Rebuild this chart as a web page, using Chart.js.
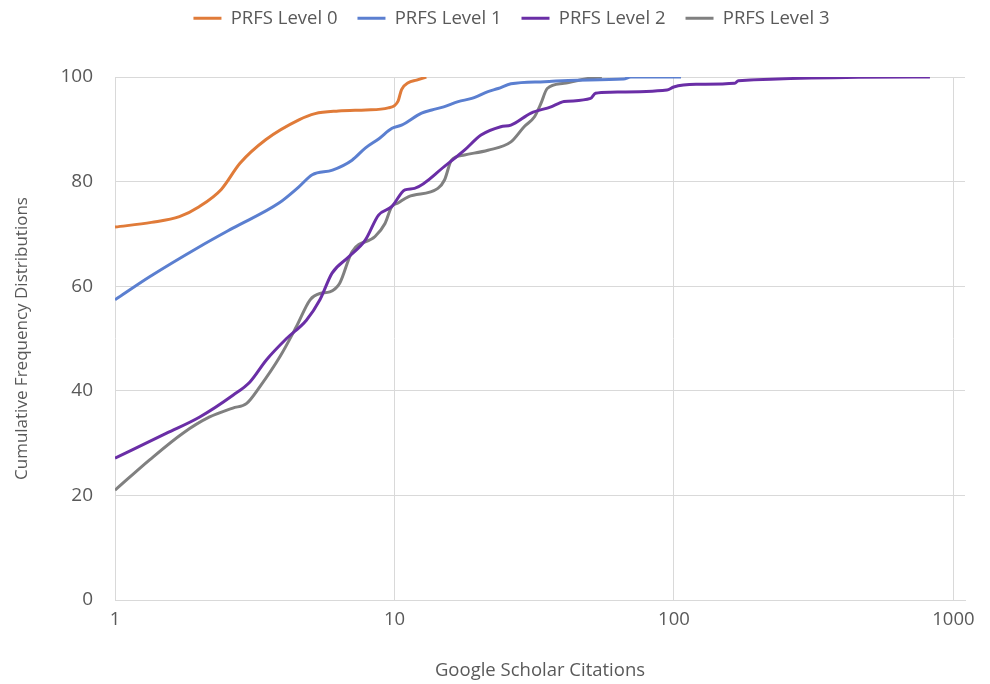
<!DOCTYPE html>
<html>
<head>
<meta charset="utf-8">
<script src="https://cdn.jsdelivr.net/npm/chart.js@4"></script>
<style>
  html, body { margin: 0; padding: 0; background: #fff; }
  #wrap { width: 990px; height: 684px; }
</style>
</head>
<body>
<div id="wrap"><canvas id="chart" width="990" height="684"></canvas></div>
<script>
// citations (x) and cumulative % (y) for each PRFS level
const level0X = [1, 1.35, 1.7, 2.0, 2.4, 2.8, 3.46, 4.55, 5.2, 6.3, 7.9, 9.5, 10.3, 10.6, 11.2, 12.0, 13.0]
const level0Y = [71.3, 72.2, 73.3, 75.2, 78.5, 83.5, 88, 91.8, 93.0, 93.5, 93.7, 94.1, 95.4, 97.6, 98.9, 99.4, 100]

const level1X = [1, 1.33, 2.0, 2.64, 3.86, 4.55, 5.08, 6.0, 7.05, 7.86, 8.8, 9.8, 10.6, 12.5, 13.6, 15.0, 16.9, 18.9, 21.6, 23.5, 26.1, 34.4, 45, 66, 70, 106]
const level1Y = [57.4, 61.8, 67.5, 71.1, 75.9, 79, 81.3, 82.2, 84.1, 86.4, 88.2, 90.2, 90.8, 93.1, 93.7, 94.3, 95.3, 95.9, 97.2, 97.8, 98.7, 99.1, 99.4, 99.6, 100, 100]

const level2X = [1, 1.53, 2.01, 2.65, 3.04, 3.48, 4.11, 4.84, 5.41, 5.98, 6.86, 7.86, 8.77, 9.77, 10.9, 11.8, 15.1, 17.8, 20.4, 24, 26.1, 30.8, 36.3, 38.9, 40.4, 50.3, 52.4, 59.2, 94.4, 99.8, 120, 165, 170, 824]
const level2Y = [27.1, 31.9, 35.0, 39.2, 41.7, 45.9, 50.0, 53.5, 57.4, 62.5, 65.6, 68.8, 73.6, 75.2, 78.4, 78.7, 82.9, 86.0, 88.9, 90.5, 90.8, 93.1, 94.3, 95.0, 95.3, 95.9, 96.9, 97.1, 97.5, 98.1, 98.6, 98.8, 99.3, 100]

const level3X = [1, 1.33, 1.75, 2.18, 2.64, 2.96, 3.30, 3.89, 4.46, 4.99, 5.41, 5.87, 6.36, 7.05, 8.52, 9.25, 9.77, 10.3, 11.2, 14.3, 15.1, 16.0, 17.8, 21.6, 26.1, 29.1, 31.7, 33.4, 35.2, 40.4, 50.3, 55.2]
const level3Y = [21.0, 26.8, 31.9, 35.0, 36.7, 37.6, 40.8, 46.5, 52.3, 57.4, 58.6, 58.9, 60.5, 66.6, 69.5, 72.0, 75.2, 75.9, 77.1, 78.7, 80.3, 84.1, 85.1, 86.0, 87.6, 90.5, 92.4, 94.9, 97.8, 98.8, 99.8, 100]

const seriesNames = ["PRFS Level 0", "PRFS Level 1", "PRFS Level 2", "PRFS Level 3"]
const seriesColors = ["#E07B39", "#5B7FD0", "#6A2EA6", "#808080"]
const xTicks = [1, 10, 100, 1000]
const yTicks = [0, 20, 40, 60, 80, 100]

function toPoints(xs, ys){
  return xs.map(function(x, i){
    return { x: x, y: ys[i] }
  })
}

const allX = [level0X, level1X, level2X, level3X]
const allY = [level0Y, level1Y, level2Y, level3Y]

const textColor = "#595959"
const gridColor = "#d9d9d9"
const font = "'Open Sans', 'Noto Sans', sans-serif"

// force the legend block height so the plot top lands where it should,
// then nudge the legend up and to the right like in the picture
const legendHeight = {
  id: "legendHeight",
  beforeInit(chart){
    const fit = chart.legend.fit
    chart.legend.fit = function(){
      fit.bind(chart.legend)()
      this.height = 77
    }
  },
  afterLayout(chart){
    const lg = chart.legend
    lg.top -= 11
    lg.bottom -= 11
    lg.left += 29
    lg.right += 29
  }
}

new Chart(document.getElementById("chart"), {
  type: "line",
  data: {
    datasets: seriesNames.map(function(name, i){
      return {
        label: name,
        data: toPoints(allX[i], allY[i]),
        borderColor: seriesColors[i],
        backgroundColor: seriesColors[i],
        borderWidth: 3,
        pointRadius: 0,
        cubicInterpolationMode: "monotone",
        fill: false
      }
    })
  },
  plugins: [legendHeight],
  options: {
    responsive: false,
    animation: false,
    layout: { padding: { left: 0, right: 25, top: 0, bottom: 0 } },
    plugins: {
      tooltip: { enabled: false },
      legend: {
        position: "top",
        align: "center",
        labels: {
          color: textColor,
          font: { family: font, size: 18.5 },
          boxWidth: 28,
          boxHeight: 3,
          padding: 20,
          generateLabels(chart){
            return Chart.defaults.plugins.legend.labels.generateLabels(chart).map(function(l){
              return Object.assign({}, l, { lineWidth: 0 })
            })
          }
        }
      }
    },
    scales: {
      x: {
        type: "logarithmic",
        min: 1,
        max: 1100,
        afterBuildTicks(scale){
          scale.ticks = xTicks.map(function(v){ return { value: v } })
        },
        afterFit(scale){ scale.height = 84 },
        ticks: {
          color: textColor,
          font: { family: font, size: 18.5 },
          padding: 9,
          maxRotation: 0,
          callback(value){ return String(value) }
        },
        grid: { color: gridColor, drawTicks: false },
        border: { color: gridColor },
        title: {
          display: true,
          text: "Google Scholar Citations",
          color: textColor,
          font: { family: font, size: 18.5 },
          padding: { top: 0, bottom: 2 }
        }
      },
      y: {
        min: 0,
        max: 100,
        afterBuildTicks(scale){
          scale.ticks = yTicks.map(function(v){ return { value: v } })
        },
        afterFit(scale){ scale.width = 115 },
        ticks: {
          color: textColor,
          font: { family: font, size: 19 },
          padding: 22
        },
        grid: { color: gridColor, drawTicks: false },
        border: { display: false },
        title: {
          display: true,
          text: "Cumulative Frequency Distributions",
          color: textColor,
          font: { family: font, size: 17 },
          padding: { top: 12, bottom: 0 }
        }
      }
    }
  }
})
</script>
</body>
</html>
